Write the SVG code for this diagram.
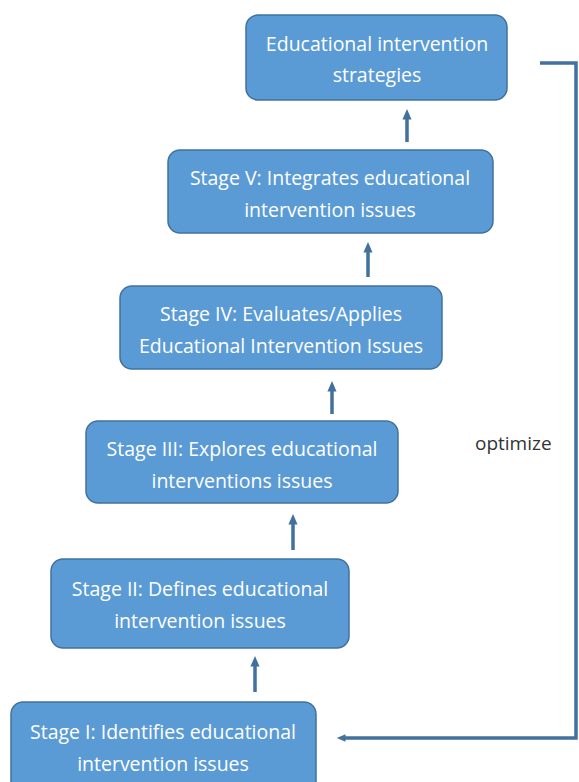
<svg xmlns="http://www.w3.org/2000/svg" width="579" height="782" viewBox="0 0 579 782">
<defs>
<style>
.box{fill:#5b9bd5;stroke:#41719c;stroke-width:1.5}
.t{fill:#ffffff;font-family:"Open Sans","Noto Sans",sans-serif;font-size:19.5px;text-anchor:middle}
.c{stroke:#41719c;stroke-width:3.5;fill:none}
.lbl{fill:#333333;font-family:"Open Sans","Noto Sans",sans-serif;font-size:19px}
</style>
<marker id="ah" markerWidth="3" markerHeight="3" refX="1" refY="1.5" orient="auto" markerUnits="strokeWidth">
<path d="M0,0.2 L3,1.5 L0,2.8 z" fill="#41719c"/>
</marker>
<marker id="ah2" markerWidth="3" markerHeight="3" refX="1" refY="1.5" orient="auto" markerUnits="strokeWidth">
<path d="M0,0.4 L2.5,1.5 L0,2.6 z" fill="#41719c"/>
</marker>
</defs>
<rect width="579" height="782" fill="#ffffff"/>
<g id="strategies"><rect class="box" x="246" y="15" width="261" height="85" rx="12"/>
<text class="t" x="377" y="51">Educational intervention</text><text class="t" x="377" y="82">strategies</text></g>
<g id="stage5"><rect class="box" x="168" y="150" width="325" height="83" rx="12"/>
<text class="t" x="330" y="185">Stage V: Integrates educational</text><text class="t" x="330" y="217">intervention issues</text></g>
<g id="stage4"><rect class="box" x="120" y="286" width="322" height="83" rx="12"/>
<text class="t" x="281" y="321">Stage IV: Evaluates/Applies</text><text class="t" x="281" y="353">Educational Intervention Issues</text></g>
<g id="stage3"><rect class="box" x="86" y="421" width="312" height="82" rx="12"/>
<text class="t" x="242" y="456">Stage III: Explores educational</text><text class="t" x="242" y="488">interventions issues</text></g>
<g id="stage2"><rect class="box" x="51" y="559" width="298" height="89" rx="12"/>
<text class="t" x="200" y="596">Stage II: Defines educational</text><text class="t" x="200" y="628">intervention issues</text></g>
<g id="stage1"><rect class="box" x="11" y="702" width="305" height="92" rx="12"/>
<text class="t" x="163" y="739">Stage I: Identifies educational</text><text class="t" x="163" y="771">intervention issues</text></g>
<g id="connectors">
<line class="c" x1="407" y1="142" x2="407" y2="116" marker-end="url(#ah)"/>
<line class="c" x1="368" y1="277" x2="368" y2="249" marker-end="url(#ah)"/>
<line class="c" x1="332" y1="414" x2="332" y2="388" marker-end="url(#ah)"/>
<line class="c" x1="293" y1="550" x2="293" y2="521" marker-end="url(#ah)"/>
<line class="c" x1="255" y1="692" x2="255" y2="663" marker-end="url(#ah)"/>
<polyline class="c" points="540,63 576,63 576,738 342,738" marker-end="url(#ah2)"/>
</g>
<text class="lbl" x="475" y="450">optimize</text>
</svg>
